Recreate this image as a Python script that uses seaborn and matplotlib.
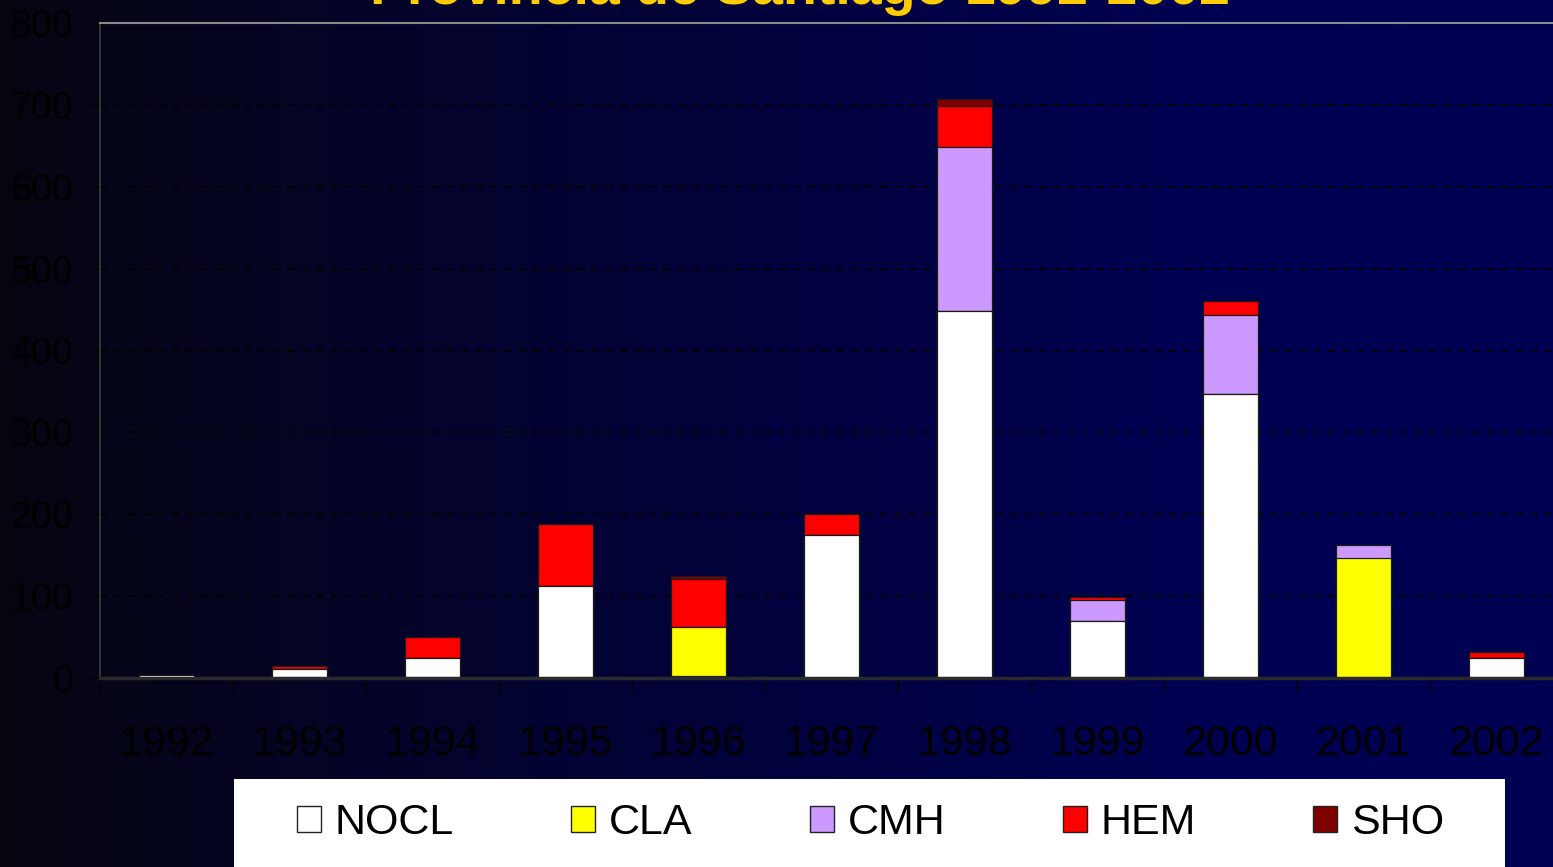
import numpy as np
import pandas as pd
import matplotlib
matplotlib.use("Agg")
import matplotlib.pyplot as plt
from matplotlib.patches import Patch, Rectangle
import seaborn as sns

# Cases per year and per clinical form
years = ["1992", "1993", "1994", "1995", "1996", "1997", "1998", "1999", "2000", "2001", "2002"]
nocl = [4, 11, 24, 112, 3, 175, 448, 70, 347, 0, 24]
cla = [0, 0, 0, 0, 59, 0, 0, 0, 0, 146, 0]
cmh = [0, 0, 0, 0, 0, 0, 201, 25, 96, 17, 0]
hem = [0, 4, 26, 76, 59, 25, 50, 4, 17, 0, 8]
sho = [0, 0, 0, 0, 4, 0, 8, 0, 0, 0, 0]

series_names = ["NOCL", "CLA", "CMH", "HEM", "SHO"]
series_colors = ["#FFFFFF", "#FFFF00", "#CC99FF", "#FF0000", "#800000"]
title = "Provincia de Santiago 1992-2002"
y_ticks = [0, 100, 200, 300, 400, 500, 600, 700, 800]

sns.set_theme(style="white")
plt.rcParams["font.family"] = ["Liberation Sans", "DejaVu Sans"]
plt.rcParams["text.color"] = "black"

W, H = 1553, 867
fig = plt.figure(figsize=(W / 100, H / 100), dpi=100)

# horizontal background gradient, black on the left to navy on the right
bg = fig.add_axes([0, 0, 1, 1], zorder=-10)
xs = np.linspace(0, 1, 600)
t = np.clip(xs * W / 1200.0, 0, 1) ** 0.85
left = np.array([6, 6, 16]) / 255.0
right = np.array([0, 0, 82]) / 255.0
grad = left[None, :] * (1 - t[:, None]) + right[None, :] * t[:, None]
bg.imshow(grad[None, :, :], aspect="auto", extent=[0, 1, 0, 1])
bg.set_axis_off()

ax = fig.add_axes([100 / W, (H - 678) / H, 1463 / W, 655 / H], zorder=1)
ax.set_facecolor("none")

df = pd.DataFrame({"Año": years, "NOCL": nocl, "CLA": cla, "CMH": cmh, "HEM": hem, "SHO": sho})
cum = df[series_names].cumsum(axis=1)

# stacked bars: draw cumulative totals from the top segment down
for name, color in reversed(list(zip(series_names, series_colors))):
    sns.barplot(x=df["Año"], y=cum[name], order=years, color=color, saturation=1,
                width=0.41, edgecolor="#1a1a1a", linewidth=0.9, errorbar=None, ax=ax,
                zorder=3)

ax.set_xlim(-0.5, len(years) - 0.5)
ax.set_ylim(0, 800)
ax.set_yticks(y_ticks)
ax.set_yticklabels([str(v) for v in y_ticks])
ax.set_xlabel("")
ax.set_ylabel("")

ax.yaxis.grid(True, color="black", linestyle=(0, (4, 4)), linewidth=1.3)
ax.set_axisbelow(True)

ax.spines["right"].set_visible(False)
ax.spines["top"].set_color("#8a8a8a")
ax.spines["top"].set_linewidth(1.5)
ax.spines["left"].set_color("#333333")
ax.spines["left"].set_linewidth(1.5)
ax.spines["bottom"].set_color("#2a2a2a")
ax.spines["bottom"].set_linewidth(2.5)
ax.spines["bottom"].set_zorder(5)

ax.tick_params(axis="y", which="major", direction="out", length=6.5, width=1,
               color="black", labelsize=27, labelcolor="black", pad=13, left=True)
ax.set_xticks(np.arange(-0.5, len(years), 1.0), minor=True)
ax.tick_params(axis="x", which="minor", direction="out", length=10, width=1, color="black",
               bottom=True)
ax.tick_params(axis="x", which="major", length=0, labelsize=31, labelcolor="black", pad=33)

fig.text(800 / W, (H - 4) / H, title, ha="center", va="baseline", fontsize=40,
         fontweight="bold", color="#FFCC00")

# legend panel
fig.patches.append(Rectangle((234 / W, 0), (1505 - 234) / W, (H - 779) / H,
                             transform=fig.transFigure, facecolor="white",
                             edgecolor="none", zorder=2))
handles = [Patch(facecolor=c, edgecolor="#222222", linewidth=1) for c in series_colors]
fs = 31
fpx = fs * 100 / 72
leg = fig.legend(handles, series_names, loc="center left",
                 bbox_to_anchor=(297 / W, (H - 823) / H), ncol=5, frameon=False,
                 fontsize=fs, handlelength=24 / fpx, handleheight=24 / fpx,
                 handletextpad=14 / fpx, columnspacing=117 / fpx, borderpad=0,
                 borderaxespad=0)
for txt in leg.get_texts():
    txt.set_color("black")

fig.savefig("out.png", dpi=100)
